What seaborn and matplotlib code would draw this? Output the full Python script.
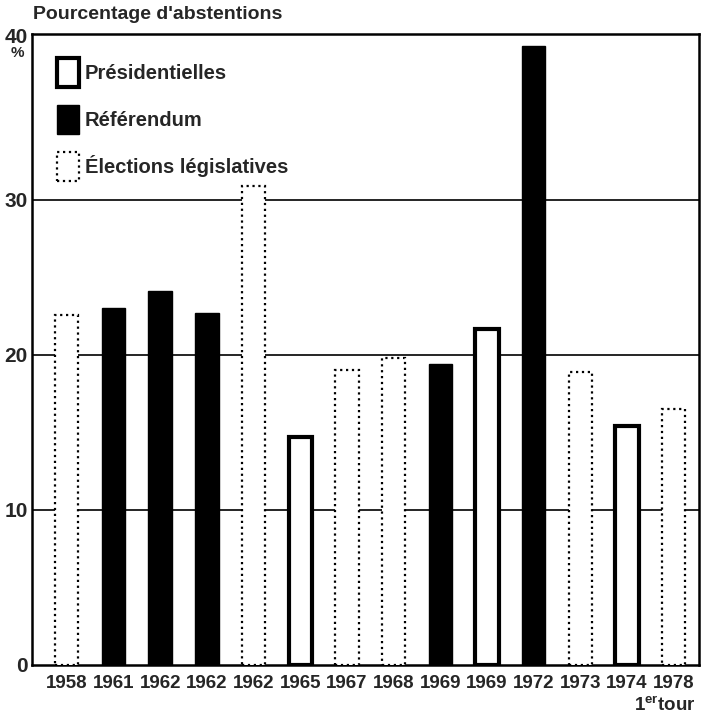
import matplotlib
matplotlib.use('Agg')
import matplotlib.pyplot as plt
import matplotlib.transforms as mtransforms
from matplotlib.patches import Patch
import seaborn as sns
import pandas as pd

# Data
years = ['1958', '1961', '1962', '1962', '1962', '1965', '1967',
         '1968', '1969', '1969', '1972', '1973', '1974', '1978']
kinds = ['Élections législatives', 'Référendum', 'Référendum', 'Référendum',
         'Élections législatives', 'Présidentielles', 'Élections législatives',
         'Élections législatives', 'Référendum', 'Présidentielles', 'Référendum',
         'Élections législatives', 'Présidentielles', 'Élections législatives']
abstentions = [22.6, 23.0, 24.1, 22.7, 30.9, 14.7, 19.0,
               19.8, 19.4, 21.7, 39.9, 18.9, 15.4, 16.5]
kind_order = ['Présidentielles', 'Référendum', 'Élections législatives']

df = pd.DataFrame({'pos': range(len(years)), 'year': years,
                   'kind': kinds, 'abst': abstentions})

sns.set_style('white')
plt.rcParams['mathtext.fontset'] = 'custom'
plt.rcParams['mathtext.bf'] = 'Liberation Sans:bold'
plt.rcParams['mathtext.rm'] = 'Liberation Sans:bold'
bold = {'family': ['Liberation Sans', 'DejaVu Sans'], 'weight': 'bold'}

fig = plt.figure(figsize=(7.07, 7.22), dpi=100)
ax = fig.add_axes([0.045, 0.079, 0.944, 0.874])

palette = {'Présidentielles': 'white', 'Référendum': 'black',
           'Élections législatives': 'white'}
sns.barplot(data=df, x='pos', y='abst', hue='kind', hue_order=kind_order,
            palette=palette, dodge=False, width=0.5, saturation=1,
            legend=False, ax=ax, zorder=3)

# style each type of bar
styles = {
    'Présidentielles': dict(edgecolor='black', linewidth=3.0, linestyle='-'),
    'Référendum': dict(edgecolor='black', linewidth=1.0, linestyle='-'),
    'Élections législatives': dict(edgecolor='black', linewidth=1.6, linestyle=':'),
}
for kind, cont in zip(kind_order, ax.containers):
    for bar in cont:
        bar.set_edgecolor(styles[kind]['edgecolor'])
        bar.set_linewidth(styles[kind]['linewidth'])
        bar.set_linestyle(styles[kind]['linestyle'])

# horizontal rules
for v in [10, 20, 30]:
    ax.axhline(v, color='black', linewidth=1.2, zorder=1)

ax.set_xlim(-0.75, 13.55)
ax.set_ylim(0, 40.7)
ax.set_yticks([0, 10, 20, 30, 40])
ax.set_yticklabels(['0', '10', '20', '30', '40'], fontdict=dict(bold, size=15))
ax.set_xticks(range(len(years)))
ax.set_xticklabels(years, fontdict=dict(bold, size=13.5))
ax.tick_params(axis='y', length=0, pad=3)
ax.tick_params(axis='x', length=0, pad=7)
ax.set_xlabel('')
ax.set_ylabel('')
for s in ax.spines.values():
    s.set_visible(True)
    s.set_color('black')
    s.set_linewidth(1.8)

# the "40" label sits on the top frame in the original
lab40 = ax.get_yticklabels()[-1]
lab40.set_transform(lab40.get_transform() +
                    mtransforms.ScaledTranslation(0, 7 / 72, fig.dpi_scale_trans))

fig.text(0.047, 0.980, "Pourcentage d'abstentions", fontdict=dict(bold, size=14),
         ha='left', va='center')
fig.text(0.024, 0.926, '%', fontdict=dict(bold, size=11), ha='center', va='center')
fig.text(0.984, 0.022, r'$\mathbf{1^{er}tour}$', fontdict=dict(bold, size=13.5),
         ha='right', va='center')

handles = [
    Patch(facecolor='white', edgecolor='black', linewidth=3.0),
    Patch(facecolor='black', edgecolor='black', linewidth=1.0),
    Patch(facecolor='white', edgecolor='black', linewidth=1.6, linestyle=':'),
]
leg = ax.legend(handles, kind_order, loc='upper left', bbox_to_anchor=(0.01, 0.99),
                frameon=False, prop=dict(bold, size=14.5), handlelength=1.1,
                handleheight=1.8, labelspacing=0.92, handletextpad=0.3)

fig.savefig('out.png', dpi=100)
